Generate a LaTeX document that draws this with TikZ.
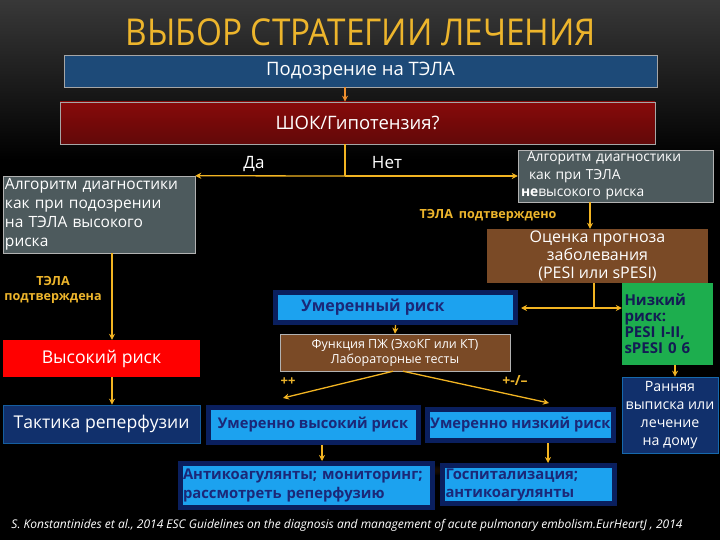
\documentclass[tikz,border=0pt]{standalone}
\usepackage{fontspec}
\setmainfont{Open Sans}
\newfontfamily\titlefont[FakeStretch=0.9]{Open Sans}
\usetikzlibrary{arrows.meta}
\definecolor{gold}{HTML}{EDB52C}
\definecolor{arr}{HTML}{F2B422}
\definecolor{arrorange}{HTML}{F0902E}
\definecolor{bluebox}{HTML}{1D4A78}
\definecolor{redbox}{HTML}{7A0B0B}
\definecolor{graybox}{HTML}{4D5A5D}
\definecolor{brownbox}{HTML}{7A4A26}
\definecolor{greenbox}{HTML}{1DAE4E}
\definecolor{navybox}{HTML}{11306C}
\definecolor{navyedge}{HTML}{0A1F5E}
\definecolor{skybox}{HTML}{1CA2EF}
\definecolor{navytext}{HTML}{1B2878}
\begin{document}
\begin{tikzpicture}[x=1pt,y=-1pt,
  bx/.style={rectangle,inner sep=0pt,text=white,align=center},
  edged/.style={bx,draw=gray!70,line width=0.6pt},
  sky/.style={bx,fill=skybox,draw=navyedge,line width=5pt,text=navytext,font=\bfseries\fontsize{14.7}{17}\selectfont},
  conn/.style={draw=arr,line width=1.3pt,-{Stealth[length=6pt,width=6pt]}},
  plain/.style={draw=arr,line width=1.3pt},
  lbl/.style={text=gold,font=\bfseries\fontsize{12.6}{14.5}\selectfont,align=center}]
\useasboundingbox (0,0) rectangle (720,540);
\fill[black] (0,0) rectangle (720,540);
\shade[top color=black!78,bottom color=black] (0,0) rectangle (720,160);
\shade[inner color=orange!35!black,outer color=black] (330,470) ellipse (140 and 8);

\node[text=gold,font=\titlefont\fontsize{37}{40}\selectfont] (title) at (361,32) {ВЫБОР СТРАТЕГИИ ЛЕЧЕНИЯ};

\node[edged,fill=bluebox,minimum width=593,minimum height=32,font=\fontsize{18.5}{20}\selectfont] (susp) at (360.5,71) {Подозрение на ТЭЛА};
\node[edged,top color=redbox!90!red,bottom color=redbox!80!black,minimum width=595,minimum height=42,font=\fontsize{18.5}{20}\selectfont] (shock) at (357.5,123) {ШОК/Гипотензия?};

\coordinate (ax) at (345,0);
\coordinate (hy) at (0,176);
\draw[draw=arrorange,line width=1.3pt,-{Stealth[length=6pt,width=6pt]}] (ax |- susp.south) -- (ax |- shock.north);

\node[bx,fill=graybox,draw=gray!60,line width=0.5pt,minimum width=192,minimum height=77,text width=188,align=left,font=\fontsize{15.5}{19}\selectfont] (algh) at (99,214.5) {Алгоритм диагностики\\как при подозрении\\на ТЭЛА высокого\\риска};
\node[bx,fill=graybox,draw=gray!60,line width=0.5pt,minimum width=195,minimum height=52,text width=189,align=left,font=\fontsize{13.8}{17.5}\selectfont] (algl) at (615.5,176) {\hspace*{6pt}Алгоритм диагностики\\\hspace*{8pt}как при ТЭЛА\\\textbf{не}высокого риска};

\draw[plain] (ax |- shock.south) -- (ax |- hy) coordinate (j1);
\draw[conn] (j1) -- (algh.north east);
\draw[conn] (j1) -- (algl.west |- j1);
\node[text=white,font=\fontsize{17}{19}\selectfont] (da) at (254,164) {Да};
\node[text=white,font=\fontsize{17}{19}\selectfont] (net) at (387,163) {Нет};

\node[lbl] (confr) at (488,215) {ТЭЛА\hspace{6pt}подтверждено};
\node[bx,fill=brownbox,minimum width=221,minimum height=54,font=\fontsize{16}{18}\selectfont] (prog) at (597.5,256) {Оценка прогноза\\заболевания\\(PESI или sPESI)};
\coordinate (ax2) at (590,0);
\draw[conn] (ax2 |- algl.south) -- (ax2 |- prog.north);

\node[bx,fill=greenbox,minimum width=91,minimum height=82,text width=86,align=left,text=navytext!70!black,font=\bfseries\fontsize{15}{16}\selectfont] (low) at (667.5,324) {Низкий\\риск:\\PESI I-II,\\sPESI 0 6};
\node[bx,fill=navybox,draw=skybox!50!navybox,line width=0.6pt,minimum width=96,minimum height=76,font=\fontsize{14.2}{18}\selectfont] (home) at (670,415) {Ранняя\\выписка или\\лечение\\на дому};
\coordinate (ax3) at (675,0);
\draw[conn] (ax3 |- low.south) -- (ax3 |- home.north);

\node[sky,minimum width=240,minimum height=30,font=\fontsize{16}{18}\selectfont\bfseries] (mod) at (395.5,307.5) {\hspace*{-45pt}Умеренный риск};
\coordinate (ax4) at (594,0);
\coordinate (hy2) at (0,308);
\draw[plain] (ax4 |- prog.south) -- (ax4 |- hy2) coordinate (j2);
\draw[conn] (j2) -- ([xshift=3pt]mod.east |- j2);
\draw[conn] (j2) -- (low.west |- j2);

\node[bx,fill=brownbox,draw=gray!60,line width=0.5pt,minimum width=230,minimum height=37,font=\fontsize{12.5}{15}\selectfont] (func) at (395,352.5) {Функция ПЖ (ЭхоКГ или КТ)\\Лабораторные тесты};
\draw[conn] (mod.south) -- (func.north);

\node[sky,minimum width=210,minimum height=35] (mhigh) at (313,425) {Умеренно высокий риск};
\node[sky,minimum width=186,minimum height=31] (mlow) at (520.5,425) {Умеренно низкий риск};
\coordinate (fl) at (283,398);
\coordinate (fr) at (549,403);
\draw[conn] ([xshift=-2pt]func.south) -- (fl);
\draw[conn] ([xshift=8pt]func.south) -- (fr);
\node[lbl,font=\bfseries\fontsize{13}{14}\selectfont] (pp) at (288,382) {++};
\node[lbl,font=\bfseries\fontsize{14}{14}\selectfont] (pm) at (515,381) {+-/--};

\node[sky,minimum width=252,minimum height=44,text width=246,align=left,font=\bfseries\fontsize{14.8}{19}\selectfont] (anti) at (306,485.5) {Антикоагулянты; мониторинг;\\рассмотреть реперфузию};
\node[sky,minimum width=172,minimum height=38,text width=166,align=left,font=\bfseries\fontsize{14.8}{18}\selectfont] (hosp) at (528.5,484.5) {Госпитализация;\\антикоагулянты};
\coordinate (ax5) at (322,0);
\coordinate (ax6) at (548,0);
\draw[conn] (ax5 |- mhigh.south) -- (ax5 |- anti.north);
\draw[conn] (ax6 |- mlow.south) -- (ax6 |- hosp.north);

\node[lbl] (confl) at (53,290) {ТЭЛА\\подтверждена};
\node[bx,fill=red,minimum width=197,minimum height=37,font=\fontsize{17.6}{19}\selectfont] (high) at (101.5,358.5) {Высокий риск};
\node[bx,fill=navybox,draw=skybox!40!navybox,line width=0.6pt,minimum width=197,minimum height=38,font=\fontsize{17.6}{19}\selectfont] (tact) at (101.5,424) {Тактика реперфузии};
\coordinate (ax7) at (112,0);
\draw[conn] (ax7 |- algh.south) -- (ax7 |- high.north);
\draw[conn] (ax7 |- high.south) -- (ax7 |- tact.north);

\node[text=white,font=\itshape\fontsize{12}{13}\selectfont] (ref) at (347,525) {S. Konstantinides et al., 2014 ESC Guidelines on the diagnosis and management of acute pulmonary embolism.EurHeartJ , 2014};
\end{tikzpicture}
\end{document}
